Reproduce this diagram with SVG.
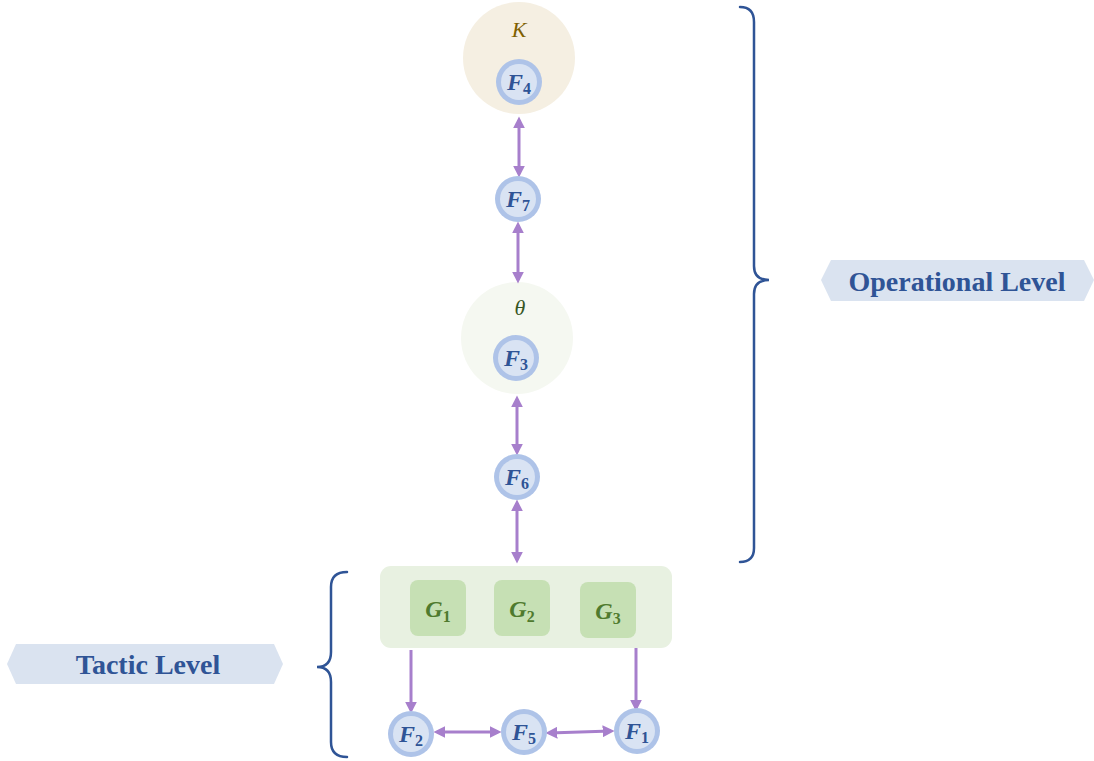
<svg xmlns="http://www.w3.org/2000/svg" width="1094" height="761" viewBox="0 0 1094 761">
<defs>
<style>
.ring{fill:#aec3e8;}
.inner{fill:#d9e3f3;}
.fl{font-family:"Liberation Serif",serif;font-weight:bold;font-style:italic;font-size:24px;fill:#2f5496;}
.sub{font-style:normal;font-size:16px;}
.gl{font-family:"Liberation Serif",serif;font-weight:bold;font-style:italic;font-size:24px;fill:#4f7a2e;}
.gsub{font-style:normal;font-size:16px;}
.conn{stroke:#a77fcc;stroke-width:3;fill:none;}
.brace{stroke:#2f5496;stroke-width:2.5;fill:none;stroke-linecap:round;}
.lbl{fill:#dae3f0;}
.lt{font-family:"Liberation Serif",serif;font-weight:bold;font-size:28px;fill:#2f5496;}
.g{fill:#c6e0b4;}
</style>
<marker id="ah" markerUnits="userSpaceOnUse" markerWidth="12" markerHeight="12" viewBox="0 0 10 10" refX="7" refY="5" orient="auto-start-reverse">
<path d="M0,0 L10,5 L0,10 z" fill="#a77fcc"/>
</marker>
</defs>
<rect width="1094" height="761" fill="#ffffff"/>

<g id="K">
<circle cx="519" cy="58" r="56" fill="#f5efe2"/>
<text x="519" y="37" text-anchor="middle" font-family="Liberation Serif,serif" font-style="italic" font-size="22" fill="#7f6000">K</text>
</g>
<g id="theta">
<circle cx="517" cy="338" r="56" fill="#f5f8f1"/>
<text x="520" y="315" text-anchor="middle" font-family="Liberation Serif,serif" font-style="italic" font-size="22" fill="#375623">θ</text>
</g>

<g id="connectors">
<line class="conn" x1="519" y1="120" x2="519" y2="174" marker-start="url(#ah)" marker-end="url(#ah)"/>
<line class="conn" x1="518" y1="225" x2="518" y2="280" marker-start="url(#ah)" marker-end="url(#ah)"/>
<line class="conn" x1="517" y1="399" x2="517" y2="452" marker-start="url(#ah)" marker-end="url(#ah)"/>
<line class="conn" x1="517" y1="503" x2="517" y2="560" marker-start="url(#ah)" marker-end="url(#ah)"/>
<line class="conn" x1="411" y1="650" x2="411" y2="710" marker-end="url(#ah)"/>
<line class="conn" x1="636" y1="648" x2="636" y2="708" marker-end="url(#ah)"/>
<line class="conn" x1="437" y1="732" x2="498" y2="732" marker-start="url(#ah)" marker-end="url(#ah)"/>
<line class="conn" x1="549" y1="733" x2="611" y2="731" marker-start="url(#ah)" marker-end="url(#ah)"/>
</g>

<g id="F4"><circle class="ring" cx="519" cy="82" r="23"/><circle class="inner" cx="519" cy="82" r="18"/><text class="fl" x="519" y="90" text-anchor="middle">F<tspan class="sub" dy="4">4</tspan></text></g>
<g id="F7"><circle class="ring" cx="518" cy="199" r="23"/><circle class="inner" cx="518" cy="199" r="18"/><text class="fl" x="518" y="207" text-anchor="middle">F<tspan class="sub" dy="4">7</tspan></text></g>
<g id="F3"><circle class="ring" cx="516" cy="358" r="23"/><circle class="inner" cx="516" cy="358" r="18"/><text class="fl" x="516" y="366" text-anchor="middle">F<tspan class="sub" dy="4">3</tspan></text></g>
<g id="F6"><circle class="ring" cx="517" cy="477" r="23"/><circle class="inner" cx="517" cy="477" r="18"/><text class="fl" x="517" y="485" text-anchor="middle">F<tspan class="sub" dy="4">6</tspan></text></g>

<g id="G">
<rect x="380" y="566" width="292" height="82" rx="11" fill="#e8f1e1"/>
<g id="G1"><rect class="g" x="410" y="580" width="56" height="56" rx="8"/><text class="gl" x="438" y="617" text-anchor="middle">G<tspan class="gsub" dy="5">1</tspan></text></g>
<g id="G2"><rect class="g" x="494" y="580" width="56" height="56" rx="8"/><text class="gl" x="522" y="617" text-anchor="middle">G<tspan class="gsub" dy="5">2</tspan></text></g>
<g id="G3"><rect class="g" x="580" y="582" width="56" height="56" rx="8"/><text class="gl" x="608" y="619" text-anchor="middle">G<tspan class="gsub" dy="5">3</tspan></text></g>
</g>

<g id="F2"><circle class="ring" cx="411" cy="734" r="23"/><circle class="inner" cx="411" cy="734" r="18"/><text class="fl" x="411" y="742" text-anchor="middle">F<tspan class="sub" dy="4">2</tspan></text></g>
<g id="F5"><circle class="ring" cx="524" cy="732" r="23"/><circle class="inner" cx="524" cy="732" r="18"/><text class="fl" x="524" y="740" text-anchor="middle">F<tspan class="sub" dy="4">5</tspan></text></g>
<g id="F1"><circle class="ring" cx="637" cy="731" r="23"/><circle class="inner" cx="637" cy="731" r="18"/><text class="fl" x="637" y="739" text-anchor="middle">F<tspan class="sub" dy="4">1</tspan></text></g>

<g id="operational-brace"><path class="brace" d="M740 7 Q754 7 754 22 L754 266 Q754 280 769 280 Q754 280 754 294 L754 548 Q754 562 740 562"/></g>
<g id="operational-label">
<polygon class="lbl" points="831,260 1084,260 1094,280 1084,301 831,301 821,280"/>
<text class="lt" x="957" y="291" text-anchor="middle">Operational Level</text>
</g>

<g id="tactic-brace"><path class="brace" d="M347 572 Q331 572 331 587 L331 652 Q331 667 317 667 Q331 667 331 682 L331 742 Q331 757 347 757"/></g>
<g id="tactic-label">
<polygon class="lbl" points="16,644 274,644 283,664 274,684 16,684 7,664"/>
<text class="lt" x="148" y="674" text-anchor="middle">Tactic Level</text>
</g>
</svg>
